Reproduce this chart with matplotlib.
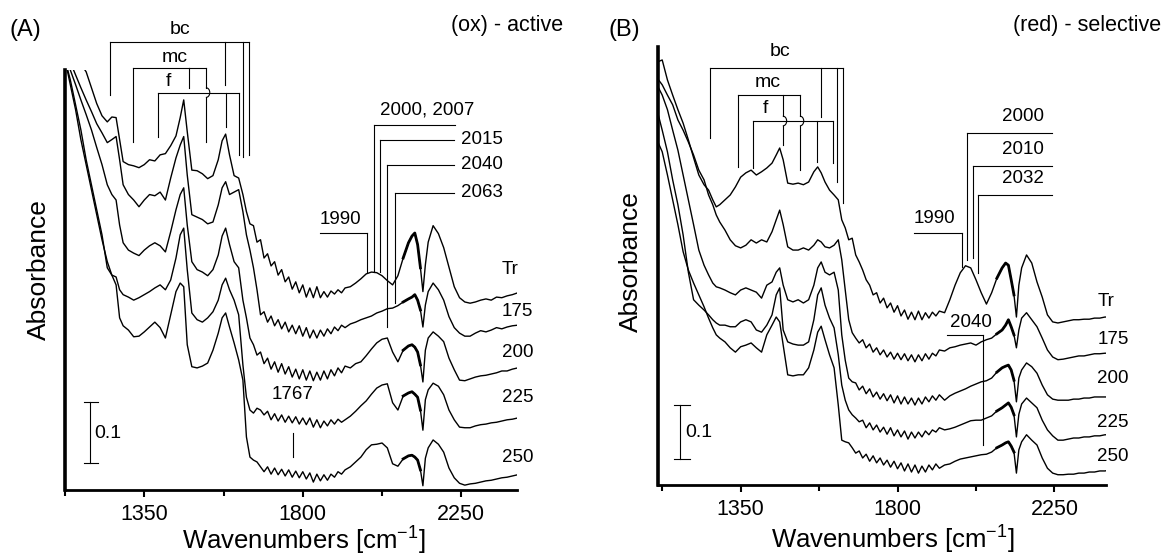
import matplotlib.pyplot as plt
from matplotlib.patches import Arc

plt.rcParams['font.family'] = ['Liberation Sans', 'DejaVu Sans']
plt.rcParams['mathtext.fontset'] = 'custom'
plt.rcParams['mathtext.rm'] = 'Liberation Sans'
plt.rcParams['mathtext.default'] = 'regular'

# wavenumber grid [cm-1], shared by all spectra
wavenumber = [1110, 1125, 1140, 1155, 1170, 1185, 1200, 1215, 1230, 1245,
              1258, 1270, 1280, 1290, 1305, 1320, 1335, 1350, 1365, 1380,
              1395, 1410, 1425, 1440, 1452, 1462, 1472, 1485, 1500, 1515,
              1530, 1545, 1560, 1571, 1581, 1592, 1605, 1618, 1630, 1640,
              1650, 1660, 1670, 1680, 1690, 1700, 1710, 1720, 1730, 1740,
              1750, 1760, 1770, 1780, 1790, 1800, 1810, 1820, 1830, 1840,
              1850, 1860, 1870, 1880, 1890, 1900, 1910, 1920, 1935, 1950,
              1965, 1980, 1995, 2010, 2025, 2040, 2055, 2070, 2085, 2100,
              2110, 2118, 2126, 2134, 2141, 2148, 2156, 2170, 2185, 2200,
              2215, 2230, 2245, 2260, 2275, 2290, 2305, 2320, 2335, 2350,
              2365, 2380, 2395, 2410]

temps = ['Tr', '175', '200', '225', '250']

# (A) (ox) - active, stacked absorbance [mAU]
a_tr = [738, 729, 718, 708, 698, 685, 659, 633, 613, 603,
        611, 610, 574, 538, 533, 531, 528, 533, 541, 539,
        549, 551, 564, 580, 610, 639, 587, 524, 523, 518,
        510, 515, 541, 572, 583, 549, 515, 511, 484, 456,
        436, 433, 406, 410, 380, 387, 367, 374, 352, 361,
        341, 349, 329, 341, 323, 336, 316, 331, 315, 333,
        315, 325, 316, 326, 321, 328, 323, 331, 333, 339,
        346, 354, 357, 356, 351, 343, 336, 351, 380, 405,
        416, 421, 402, 364, 325, 369, 406, 433, 420, 397,
        365, 333, 315, 308, 306, 308, 311, 313, 311, 316,
        315, 318, 320, 323]
a_175 = [738, 721, 701, 680, 659, 639, 620, 600, 585, 569,
         574, 579, 541, 500, 484, 475, 464, 475, 484, 482,
         488, 475, 511, 544, 565, 579, 516, 451, 447, 443,
         436, 439, 467, 495, 505, 484, 488, 492, 456, 418,
         393, 364, 328, 287, 292, 275, 285, 269, 279, 264,
         275, 259, 270, 256, 269, 252, 266, 249, 262, 249,
         262, 252, 264, 256, 267, 261, 270, 266, 272, 275,
         279, 282, 285, 290, 293, 297, 298, 302, 308, 313,
         316, 320, 311, 295, 267, 303, 325, 339, 328, 311,
         284, 266, 257, 252, 252, 257, 261, 259, 262, 266,
         264, 267, 269, 270]
a_200 = [729, 708, 688, 664, 639, 615, 590, 561, 533, 500,
         484, 475, 434, 405, 393, 388, 384, 393, 400, 405,
         400, 390, 423, 459, 484, 495, 434, 374, 361, 357,
         351, 361, 385, 416, 429, 402, 374, 364, 311, 282,
         249, 238, 221, 226, 207, 216, 198, 210, 193, 207,
         190, 202, 185, 198, 182, 197, 180, 195, 179, 193,
         180, 195, 182, 197, 187, 200, 192, 203, 200, 207,
         210, 220, 231, 241, 247, 249, 226, 210, 229, 236,
         238, 234, 226, 205, 177, 229, 249, 259, 252, 243,
         216, 197, 180, 179, 182, 185, 187, 188, 190, 192,
         195, 195, 198, 200]
a_225 = [738, 705, 672, 631, 590, 541, 500, 459, 418, 364,
         352, 349, 328, 320, 316, 311, 315, 320, 325, 331,
         336, 328, 344, 380, 418, 429, 361, 290, 279, 275,
         282, 292, 311, 336, 347, 328, 311, 287, 205, 152,
         131, 126, 134, 131, 123, 129, 115, 125, 113, 123,
         111, 121, 110, 120, 108, 118, 107, 118, 103, 115,
         102, 113, 105, 115, 108, 116, 111, 115, 121, 129,
         138, 146, 157, 167, 172, 174, 143, 131, 154, 159,
         161, 157, 152, 131, 98, 148, 164, 175, 170, 156,
         131, 115, 103, 102, 102, 105, 107, 108, 110, 111,
         113, 115, 116, 118]
a_250 = [738, 705, 664, 623, 574, 533, 492, 451, 410, 374,
         352, 336, 282, 269, 262, 251, 252, 259, 267, 275,
         266, 249, 287, 325, 339, 333, 238, 202, 200, 203,
         208, 229, 257, 282, 290, 267, 241, 213, 180, 87,
         54, 49, 46, 38, 30, 38, 26, 36, 25, 34,
         23, 33, 21, 31, 20, 30, 18, 28, 13, 26,
         15, 25, 16, 26, 21, 30, 26, 33, 38, 46,
         54, 66, 74, 75, 77, 69, 43, 39, 51, 56,
         57, 54, 49, 33, 7, 52, 69, 82, 75, 62,
         36, 20, 11, 8, 10, 11, 13, 15, 16, 18,
         20, 21, 23, 25]

# (B) (red) - selective, stacked absorbance [mAU]
b_tr = [783, 787, 750, 722, 695, 670, 639, 606, 574, 556,
        546, 528, 515, 519, 528, 537, 552, 570, 578, 583,
        574, 580, 587, 596, 611, 624, 602, 559, 557, 559,
        556, 561, 580, 589, 578, 561, 546, 537, 528, 491,
        476, 454, 457, 426, 413, 398, 380, 370, 352, 356,
        337, 346, 328, 337, 320, 332, 313, 324, 307, 320,
        306, 322, 306, 319, 309, 320, 313, 322, 319, 343,
        370, 393, 406, 402, 380, 356, 335, 356, 383, 402,
        411, 407, 380, 352, 311, 370, 402, 426, 411, 376,
        348, 315, 302, 300, 302, 304, 306, 306, 307, 307,
        309, 309, 311, 311]
b_175 = [754, 741, 722, 704, 676, 657, 635, 611, 583, 565,
         537, 519, 500, 487, 472, 454, 443, 439, 444, 454,
         448, 454, 450, 469, 491, 509, 482, 441, 435, 435,
         439, 435, 444, 454, 450, 441, 439, 444, 454, 417,
         361, 306, 282, 272, 263, 269, 254, 261, 246, 254,
         241, 250, 237, 246, 233, 244, 232, 243, 230, 241,
         228, 241, 230, 243, 233, 244, 239, 250, 248, 254,
         256, 259, 261, 263, 259, 265, 269, 272, 280, 287,
         296, 306, 293, 278, 254, 287, 309, 319, 306, 293,
         272, 250, 237, 232, 233, 235, 237, 239, 239, 241,
         243, 243, 244, 244]
b_200 = [741, 722, 695, 657, 620, 574, 528, 482, 435, 407,
         389, 374, 367, 365, 361, 356, 352, 361, 365, 361,
         357, 346, 370, 376, 394, 402, 370, 343, 339, 343,
         337, 343, 370, 402, 413, 394, 389, 394, 361, 278,
         231, 198, 191, 189, 176, 183, 169, 178, 163, 172,
         159, 169, 156, 167, 152, 165, 150, 163, 150, 161,
         148, 161, 150, 163, 154, 165, 157, 167, 157, 165,
         170, 174, 178, 183, 187, 191, 193, 198, 209, 217,
         220, 222, 213, 194, 154, 198, 213, 226, 219, 207,
         185, 167, 159, 157, 157, 157, 159, 159, 161, 161,
         163, 163, 163, 163]
b_225 = [695, 657, 617, 565, 519, 463, 394, 343, 333, 324,
         315, 306, 300, 296, 296, 293, 293, 302, 306, 302,
         287, 283, 296, 315, 352, 365, 287, 265, 261, 259,
         259, 265, 306, 352, 365, 333, 309, 291, 241, 185,
         157, 139, 130, 124, 117, 120, 106, 115, 102, 111,
         98, 107, 94, 106, 91, 102, 89, 100, 85, 98,
         87, 98, 89, 100, 93, 102, 98, 106, 102, 104,
         107, 111, 115, 119, 120, 120, 124, 128, 137, 143,
         148, 152, 144, 130, 89, 131, 150, 161, 152, 143,
         120, 102, 91, 83, 83, 85, 87, 87, 89, 89,
         91, 91, 93, 93]
b_250 = [639, 617, 574, 528, 482, 432, 398, 374, 352, 330,
         309, 291, 278, 272, 265, 254, 246, 256, 259, 263,
         254, 246, 278, 296, 311, 302, 259, 204, 202, 204,
         204, 217, 250, 283, 294, 269, 241, 217, 148, 83,
         80, 78, 69, 59, 63, 50, 57, 44, 54, 41,
         50, 37, 46, 33, 44, 30, 41, 26, 39, 24,
         37, 22, 35, 24, 37, 28, 39, 31, 37, 39,
         44, 48, 50, 52, 54, 56, 57, 61, 69, 74,
         78, 80, 72, 61, 22, 65, 80, 93, 83, 74,
         50, 31, 22, 19, 19, 20, 20, 22, 22, 24,
         24, 26, 26, 28]

a_label_y = [361, 292, 226, 151, 54]
b_label_y = [339, 269, 198, 115, 52]

# first/last index of the densely structured CO band (2085-2134 cm-1)
co_lo, co_hi = wavenumber.index(2085), wavenumber.index(2134) + 1

LW = 0.8


def seg(ax, x0, y0, x1, y1):
    ax.plot([x0, x1], [y0, y1], color='k', lw=LW, clip_on=False)


def bracket(ax, y, xs, ends):
    seg(ax, min(xs), y, max(xs), y)
    for x, e in zip(xs, ends):
        if e is not None:
            seg(ax, x, y, x, e)


def hop(ax, x, ytop, ybot, ycross, dx, dy):
    seg(ax, x, ytop, x, ycross + dy)
    seg(ax, x, ycross - dy, x, ybot)
    ax.add_patch(Arc((x, ycross), 2 * dx, 2 * dy, theta1=-90, theta2=90,
                     color='k', lw=LW))


def spectra(ax, curves):
    for y in curves:
        ax.plot(wavenumber, y, color='k', lw=1.0)
        ax.plot(wavenumber[co_lo:co_hi], y[co_lo:co_hi], color='k', lw=2.0)


def style(ax, xlim, ylim):
    ax.set_xlim(*xlim)
    ax.set_ylim(*ylim)
    ax.spines['top'].set_visible(False)
    ax.spines['right'].set_visible(False)
    ax.spines['left'].set_linewidth(2.6)
    ax.spines['bottom'].set_linewidth(2.0)
    ax.set_yticks([])
    ax.set_xticks([1350, 1800, 2250])
    ax.set_xticks([1125, 1575, 2025], minor=True)
    ax.tick_params(axis='x', which='major', length=5, width=1.5,
                   labelsize=15.5, pad=5)
    ax.tick_params(axis='x', which='minor', length=4, width=1.5)


fig = plt.figure(figsize=(11.63, 5.59), dpi=100)
ax_a = fig.add_axes([0.0559, 0.1234, 0.3886, 0.7514])
ax_b = fig.add_axes([0.5658, 0.1324, 0.3852, 0.7835])

# ---- panel A ----
style(ax_a, (1132, 2408), (0, 688))
spectra(ax_a, [a_tr, a_175, a_200, a_225, a_250])
for t, ly in zip(temps, a_label_y):
    ax_a.text(2365, ly, t, fontsize=13.5, ha='left', va='center', clip_on=False)

bracket(ax_a, 734, [1253, 1578, 1631, 1646], [647, 664, 546, 549])
bracket(ax_a, 692, [1318, 1476], [570, 659])
seg(ax_a, 1476, 692, 1525, 692)
bracket(ax_a, 651, [1389, 1581, 1620], [579, 595, 549])
hop(ax_a, 1525, 692, 570, 651, 11, 8)
ax_a.text(1451, 754, 'bc', fontsize=14, ha='center', va='center')
ax_a.text(1437, 708, 'mc', fontsize=14, ha='center', va='center')
ax_a.text(1419, 669, 'f', fontsize=14, ha='center', va='center')

seg(ax_a, 1849, 421, 1982, 421)
seg(ax_a, 1982, 421, 1982, 357)
ax_a.text(1908, 443, '1990', fontsize=13.5, ha='center', va='center')
seg(ax_a, 2001, 598, 2233, 598)
seg(ax_a, 2001, 598, 2001, 357)
ax_a.text(2153, 623, '2000, 2007', fontsize=13.5, ha='center', va='center')
for x, y, e, lab in [(2018, 574, 357, '2015'), (2040, 533, 267, '2040'),
                     (2061, 487, 306, '2063')]:
    seg(ax_a, x, y, 2230, y)
    seg(ax_a, x, y, x, e)
    ax_a.text(2250, y, lab, fontsize=13.5, ha='left', va='center')
ax_a.text(1772, 156, '1767', fontsize=13.5, ha='center', va='center')
seg(ax_a, 1772, 93, 1772, 54)

seg(ax_a, 1197, 44, 1197, 144)
seg(ax_a, 1180, 44, 1220, 44)
seg(ax_a, 1180, 144, 1220, 144)
ax_a.text(1208, 93, '0.1', fontsize=14, ha='left', va='center')

# ---- panel B ----
style(ax_b, (1113, 2398), (0, 811))
spectra(ax_b, [b_tr, b_175, b_200, b_225, b_250])
for t, ly in zip(temps, b_label_y):
    ax_b.text(2373, ly, t, fontsize=13.5, ha='left', va='center', clip_on=False)

bracket(ax_b, 772, [1262, 1580, 1626, 1644], [643, 681, 561, 522])
bracket(ax_b, 722, [1342, 1520], [589, None])
bracket(ax_b, 674, [1385, 1569, 1615], [587, 598, 596])
hop(ax_b, 1471, 722, 630, 674, 11, 9)
hop(ax_b, 1520, 722, 583, 674, 11, 9)
ax_b.text(1463, 802, 'bc', fontsize=14, ha='center', va='center')
ax_b.text(1428, 746, 'mc', fontsize=14, ha='center', va='center')
ax_b.text(1420, 698, 'f', fontsize=14, ha='center', va='center')

seg(ax_b, 1847, 467, 1985, 467)
seg(ax_b, 1985, 467, 1985, 404)
ax_b.text(1905, 494, '1990', fontsize=13.5, ha='center', va='center')
for x, y, e, lab in [(1999, 652, 417, '2000'), (2016, 591, 420, '2010'),
                     (2031, 537, 393, '2032')]:
    seg(ax_b, x, y, 2243, y)
    seg(ax_b, x, y, x, e)
    ax_b.text(2160, y + 31, lab, fontsize=13.5, ha='center', va='center')
seg(ax_b, 1942, 278, 2045, 278)
seg(ax_b, 2045, 278, 2045, 74)
ax_b.text(2011, 300, '2040', fontsize=13.5, ha='center', va='center')

seg(ax_b, 1176, 48, 1176, 148)
seg(ax_b, 1159, 48, 1205, 48)
seg(ax_b, 1159, 148, 1205, 148)
ax_b.text(1190, 98, '0.1', fontsize=14, ha='left', va='center')

# ---- figure texts ----
W, H = 1163.0, 559.0
fig.text(25 / W, 1 - 30 / H, '(A)', fontsize=17, ha='center', va='center')
fig.text(624 / W, 1 - 30 / H, '(B)', fontsize=17, ha='center', va='center')
fig.text(563 / W, 1 - 25 / H, '(ox) - active', fontsize=15.5, ha='right', va='center')
fig.text(1161 / W, 1 - 26 / H, '(red) - selective', fontsize=15.5, ha='right', va='center')
fig.text(39 / W, 1 - 270 / H, 'Absorbance', fontsize=19, rotation=90,
         ha='center', va='center')
fig.text(631 / W, 1 - 262 / H, 'Absorbance', fontsize=19, rotation=90,
         ha='center', va='center')
fig.text(304 / W, 1 - 541 / H, 'Wavenumbers [cm$^{-1}$]', fontsize=18.5,
         ha='center', va='center')
fig.text(893 / W, 1 - 540 / H, 'Wavenumbers [cm$^{-1}$]', fontsize=18.5,
         ha='center', va='center')

fig.savefig('out.png', dpi=100, facecolor='white')
